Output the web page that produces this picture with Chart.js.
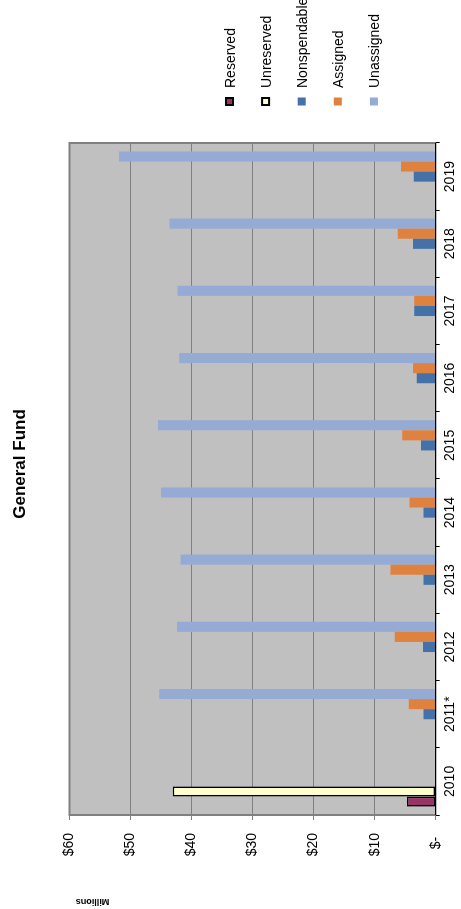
<!DOCTYPE html>
<html>
<head>
<meta charset="utf-8">
<title>General Fund</title>
<script src="https://cdn.jsdelivr.net/npm/chart.js@4/dist/chart.umd.min.js"></script>
<style>
  html, body { margin: 0; padding: 0; background: #fff; overflow: hidden; }
  /* The chart is laid out as a normal column chart, then turned a quarter turn */
  #frame {
    position: absolute; left: 0; top: 909px;
    width: 909px; height: 461px;
    transform-origin: 0 0; transform: rotate(-90deg);
  }
</style>
</head>
<body>
<div id="frame"><canvas id="c" width="909" height="461"></canvas></div>
<script>
// Fund balances by fiscal year, $ millions
const years        = ['2010', '2011*', '2012', '2013', '2014', '2015', '2016', '2017', '2018', '2019'];
const reserved     = [4.7,  null, null, null, null, null, null, null, null, null];
const unreserved   = [43.1, null, null, null, null, null, null, null, null, null];
const nonspendable = [null, 2.0,  2.1,  2.0,  2.0,  2.4,  3.1,  3.5,  3.7,  3.6];
const assigned     = [null, 4.4,  6.7,  7.4,  4.3,  5.5,  3.7,  3.5,  6.2,  5.7];
const unassigned   = [null, 45.3, 42.4, 41.8, 45.0, 45.5, 42.0, 42.3, 43.6, 51.9];

const seriesNames  = ['Reserved', 'Unreserved', 'Nonspendable', 'Assigned', 'Unassigned'];
const seriesValues = [reserved, unreserved, nonspendable, assigned, unassigned];
const seriesFill   = ['#993366', '#FFFFCC', '#4472A8', '#E0823F', '#95ABD4'];
const outlined     = [true, true, false, false, false];

const FONT = "'Liberation Sans', Arial, Helvetica, sans-serif";
Chart.defaults.font.family = FONT;
Chart.defaults.font.size = 14;
Chart.defaults.color = '#000';

const GRID = '#808080';

// Grey plot area with a grey frame on three sides
const plotArea = {
  id: 'plotArea',
  beforeDraw(chart) {
    const { ctx, chartArea: a } = chart;
    ctx.save();
    ctx.fillStyle = '#C0C0C0';
    ctx.fillRect(a.left, a.top, a.right - a.left, a.bottom - a.top);
    ctx.restore();
  },
  beforeDatasetsDraw(chart) {
    const { ctx, chartArea: a } = chart;
    ctx.save();
    ctx.strokeStyle = GRID;
    ctx.lineWidth = 2;
    ctx.beginPath();
    ctx.moveTo(a.left, a.bottom);
    ctx.lineTo(a.left, a.top);
    ctx.lineTo(a.right, a.top);
    ctx.lineTo(a.right, a.bottom);
    ctx.stroke();
    ctx.restore();
  },
  afterDatasetsDraw(chart) {
    // category axis line sits on top of the bar bases
    const { ctx, chartArea: a } = chart;
    ctx.save();
    ctx.strokeStyle = '#000';
    ctx.lineWidth = 1.2;
    ctx.beginPath();
    ctx.moveTo(a.left, a.bottom);
    ctx.lineTo(a.right, a.bottom);
    ctx.stroke();
    ctx.restore();
  }
};

// Title, display-unit label and the legend column
const annotations = {
  id: 'annotations',
  afterDraw(chart) {
    const { ctx } = chart;
    ctx.save();
    ctx.fillStyle = '#000';

    ctx.font = 'bold 17px ' + FONT;
    ctx.textAlign = 'center';
    ctx.textBaseline = 'alphabetic';
    ctx.fillText('General Fund', 445, 24.5);

    ctx.save();
    ctx.translate(8, 92.5);
    ctx.rotate(-Math.PI / 2);
    ctx.font = 'bold 9px ' + FONT;
    ctx.textAlign = 'center';
    ctx.textBaseline = 'middle';
    ctx.fillText('Millions', 0, 0);
    ctx.restore();

    ctx.font = '14px ' + FONT;
    ctx.textAlign = 'left';
    seriesNames.forEach((name, i) => {
      const cy = 229.5 + 36.1 * i;
      if (outlined[i]) {
        ctx.fillStyle = '#000';
        ctx.fillRect(803, cy - 4.5, 9, 9);
        ctx.fillStyle = seriesFill[i];
        ctx.fillRect(805, cy - 2.5, 5, 5);
      } else {
        ctx.fillStyle = seriesFill[i];
        ctx.fillRect(803.5, cy - 4, 8, 8);
      }
      ctx.fillStyle = '#000';
      ctx.fillText(name, 821, cy + 5);
    });
    ctx.restore();
  }
};

new Chart(document.getElementById('c'), {
  type: 'bar',
  data: {
    labels: years,
    datasets: seriesNames.map((name, i) => ({
      label: name,
      data: seriesValues[i],
      backgroundColor: seriesFill[i],
      borderColor: '#000',
      borderWidth: outlined[i] ? 1.6 : 0,
      borderSkipped: false,
      categoryPercentage: 0.75,
      barPercentage: 1.0
    }))
  },
  options: {
    responsive: false,
    devicePixelRatio: 1,
    animation: false,
    layout: { padding: { top: 69.5, right: 143, bottom: 0, left: 0 } },
    plugins: {
      legend: { display: false },
      title: { display: false },
      tooltip: { enabled: false }
    },
    scales: {
      x: {
        offset: true,
        grid: {
          offset: true,
          drawOnChartArea: false,
          drawTicks: true,
          tickLength: 4,
          color: '#000'
        },
        border: { display: true, color: '#000', width: 1 },
        ticks: { padding: 2, maxRotation: 0, autoSkip: false, font: { size: 14 } },
        afterFit(s) { s.height = 25.3; }
      },
      y: {
        min: 0,
        max: 60,
        grid: {
          color: GRID,
          lineWidth: 1,
          tickLength: 5,
          tickColor: GRID,
          drawTicks: true
        },
        border: { display: false },
        ticks: {
          stepSize: 10,
          padding: 13,
          font: { size: 14 },
          callback: v => (v === 0 ? '$- ' : '$' + v)
        },
        afterFit(s) { s.width = 94; }
      }
    }
  },
  plugins: [plotArea, annotations]
});
</script>
</body>
</html>
